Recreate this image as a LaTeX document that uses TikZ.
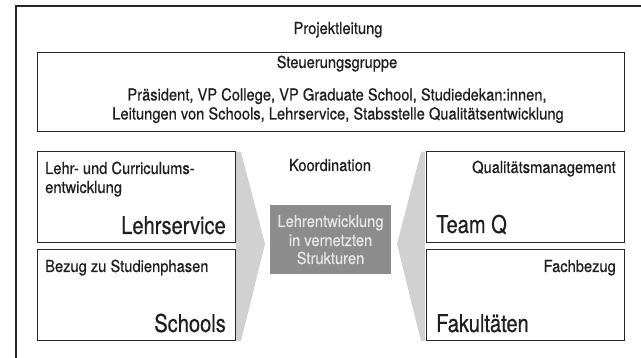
\documentclass[tikz,border=0pt]{standalone}
\usepackage{fontspec}
\setmainfont{TeX Gyre Heros}[FakeStretch=0.89,FakeBold=0.5]
\newfontfamily\bigfont{TeX Gyre Heros}[FakeStretch=0.82,FakeBold=0.5]
\begin{document}
\begin{tikzpicture}[x=1pt,y=-1pt,
  frameline/.style={draw=black!85,line width=1.1pt},
  boxline/.style={draw=black!85,line width=1pt},
  chev/.style={fill=black!18,draw=none},
  txt/.style={inner sep=0pt,font=\fontsize{16.5}{19}\selectfont,text=black!88},
  big/.style={inner sep=0pt,font=\bigfont\fontsize{24.5}{28}\selectfont,text=black!88},
  ctxt/.style={inner sep=0pt,font=\fontsize{16.5}{19}\selectfont,text=black!10}]
\useasboundingbox (0,0) rectangle (641,358);
\fill[white] (0,0) rectangle (641,358);
% outer frame
\coordinate (fbl) at (16,358);
\coordinate (ftl) at (16,6);
\coordinate (ftr) at (641,6);
\draw[frameline] (fbl) -- (ftl) -- (ftr);
\node[txt,anchor=base] (pl) at (338,34) {Projektleitung};
% Steuerungsgruppe
\draw[boxline] (37,53) rectangle (624,132);
\node[txt,anchor=base] (sg) at (337,68) {Steuerungsgruppe};
\node[txt,anchor=base] (l1) at (337,100.5) {Präsident, VP College, VP Graduate School, Studiedekan:innen,};
\node[txt,anchor=base] (l2) at (338,119.5) {Leitungen von Schools, Lehrservice, Stabsstelle Qualitätsentwicklung};
% chevrons
\fill[chev] (236,152) -- (241,152) -- (265,244) -- (241,341) -- (236,341) -- cycle;
\fill[chev] (425,152) -- (421,152) -- (397,244) -- (421,341) -- (425,341) -- cycle;
% left boxes
\draw[boxline] (37,152) rectangle (235,243);
\draw[boxline] (37,250) rectangle (235,341);
\node[txt,anchor=base west] (lc1) at (45,174) {Lehr- und Curriculums-};
\node[txt,anchor=base west] (lc2) at (45,193) {entwicklung};
\node[big,anchor=base east] (ls) at (226,234) {Lehrservice};
\node[txt,anchor=base west] (bz) at (45,272) {Bezug zu Studienphasen};
\node[big,anchor=base east] (sc) at (226,332) {Schools};
% right boxes
\draw[boxline] (426,152) rectangle (624,243);
\draw[boxline] (426,250) rectangle (624,341);
\node[txt,anchor=base east] (qm) at (616,173) {Qualitätsmanagement};
\node[big,anchor=base west] (tq) at (436,233) {Team Q};
\node[txt,anchor=base east] (fb) at (616,272) {Fachbezug};
\node[big,anchor=base west] (fk) at (436,332) {Fakultäten};
% center
\node[txt,anchor=base] (ko) at (330,171) {Koordination};
\fill[black!45] (270,205) rectangle (391,274);
\node[ctxt,anchor=base] (c1) at (330.5,227) {Lehrentwicklung};
\node[ctxt,anchor=base] (c2) at (330.5,246) {in vernetzten};
\node[ctxt,anchor=base] (c3) at (330.5,264) {Strukturen};
\end{tikzpicture}
\end{document}
